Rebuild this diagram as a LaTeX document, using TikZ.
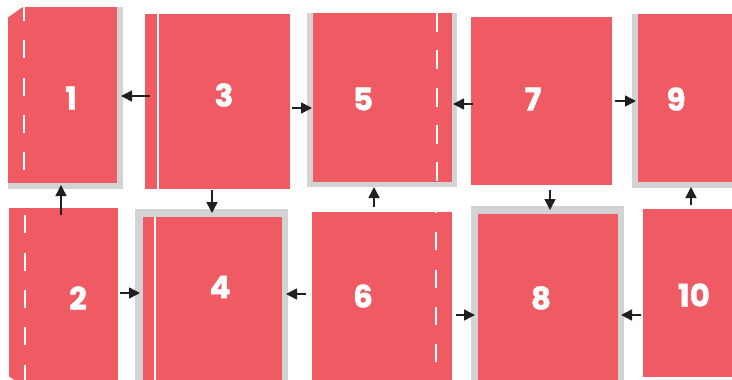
\documentclass[tikz,border=0pt]{standalone}
\usepackage{fontspec}
\usepackage{tikz}
\usetikzlibrary{arrows.meta, backgrounds, calc}
\newfontfamily\numfont{Poppins}[BoldFeatures={FakeBold=1.6}]
\definecolor{mypanelred}{RGB}{240, 90, 98}
\definecolor{myshadowgray}{RGB}{209, 211, 212}
\definecolor{myarrowblack}{RGB}{35, 31, 32}
\tikzset{
  panel/.style={fill=mypanelred, inner sep=0, outer sep=0},
  num/.style={text=white, font=\numfont\bfseries\fontsize{31}{31}\selectfont, inner sep=0},
  fold/.style={draw=white, line width=2},
  arr/.style={-{Triangle[length=11, width=11]}, line width=1.5, myarrowblack}
}
\begin{document}
\begin{tikzpicture}[x=1pt, y=-1pt]
\useasboundingbox (0,0) rectangle (732,380);

% --- Top row ---
\node at (62.5,95) [panel, minimum width=109, minimum height=176] (p1) {};
\node at (217.5,101.5) [panel, minimum width=145, minimum height=175] (p3) {};
\node at (382.5,97.5) [panel, minimum width=139, minimum height=169] (p5) {};
\node at (541.5,101) [panel, minimum width=141, minimum height=168] (p7) {};
\node at (685,98) [panel, minimum width=94, minimum height=168] (p9) {};

% --- Bottom row ---
\node at (63.5,294) [panel, minimum width=109, minimum height=172] (p2) {};
\node at (212.5,298.5) [panel, minimum width=139, minimum height=163] (p4) {};
\node at (382,296) [panel, minimum width=140, minimum height=168] (p6) {};
\node at (548,297) [panel, minimum width=140, minimum height=166] (p8) {};
\node at (687.5,293) [panel, minimum width=89, minimum height=168] (p10) {};

% --- Shadows ---
\begin{scope}[on background layer]
\fill[myshadowgray] (p1.north west) rectangle ($(p1.south east)+(6,6)$);
\fill[myshadowgray] ($(p4.north west)+(-8,-8)$) rectangle ($(p4.south east)+(6,0)$);
\fill[myshadowgray] ($(p5.north west)+(-6,0)$) rectangle ($(p5.south east)+(5,5)$);
\fill[myshadowgray] ($(p8.north west)+(-7,-8)$) rectangle ($(p8.south east)+(6,0)$);
\fill[myshadowgray] ($(p9.north west)+(-6,0)$) rectangle ($(p9.south east)+(0,6)$);
\end{scope}

% --- Folds ---
\draw[fold, dash pattern=on 18 off 19.3, dash phase=4] ($(p1.north west)+(16,0)$) -- ($(p1.south west)+(16,0)$);
\draw[fold, dash pattern=on 18 off 19.3, dash phase=30] ($(p2.north west)+(16,0)$) -- ($(p2.south west)+(16,0)$);
\draw[fold, dash pattern=on 19 off 18.3] ($(p5.north east)+(-15,0)$) -- ($(p5.south east)+(-15,0)$);
\draw[fold, dash pattern=on 18 off 19.3, dash phase=17] ($(p6.north east)+(-16,0)$) -- ($(p6.south east)+(-16,0)$);
\draw[fold] ($(p3.north west)+(13,0)$) -- ($(p3.south west)+(13,0)$);
\draw[fold] ($(p4.north west)+(12,0)$) -- ($(p4.south west)+(12,0)$);

% --- Cut corners ---
\fill[white] ($(p1.north west)+(-1,-1)$) -- ($(p1.north west)+(16,-1)$) -- ($(p1.north west)+(-1,11)$) -- cycle;
\fill[white] ($(p2.south west)+(-1,1)$) -- ($(p2.south west)+(-1,-4)$) -- ($(p2.south west)+(7,1)$) -- cycle;

% --- Numbers ---
\node at (71,98) [num] (n1) {1};
\node at (78,298) [num] (n2) {2};
\node at (224,95) [num] (n3) {3};
\node at (220,287) [num] (n4) {4};
\node at (363,99) [num] (n5) {5};
\node at (363,296) [num] (n6) {6};
\node at (533,99) [num] (n7) {7};
\node at (541,298) [num] (n8) {8};
\node at (676,99) [num] (n9) {9};
\node at (694,295) [num] (n10) {10};

% --- Arrows ---
\draw[arr] ($(p3.west)+(5,-5.5)$) -- ($(p1.east)+(4,1)$);
\draw[arr] ($(p3.east)+(2,6.5)$) -- ($(p5.west)+(-1,10.5)$);
\draw[arr] ($(p7.west)+(2,3)$) -- ($(p5.east)+(1,6.5)$);
\draw[arr] ($(p7.east)+(3,0)$) -- ($(p9.west)+(-2,3)$);
\draw[arr] ($(p2.north)+(-2.5,7)$) -- ($(p1.south)+(-1.5,2)$);
\draw[arr] ($(p2.east)+(2,-1)$) -- ($(p4.west)+(-3,-5.5)$);
\draw[arr] ($(p3.south)+(-5.5,1)$) -- ($(p4.north)+(-0.5,-4)$);
\draw[arr] ($(p6.west)+(-6,-2)$) -- ($(p4.east)+(4,-4.5)$);
\draw[arr] ($(p6.north)+(-8,-5)$) -- ($(p5.south)+(-8.5,5)$);
\draw[arr] ($(p6.east)+(4,19)$) -- ($(p8.west)+(-3,18)$);
\draw[arr] ($(p7.south)+(8.5,5)$) -- ($(p8.north)+(2,-4)$);
\draw[arr] ($(p10.west)+(-2,22)$) -- ($(p8.east)+(3,18)$);
\draw[arr] ($(p10.north)+(3.5,-4)$) -- ($(p9.south)+(6,5)$);
\end{tikzpicture}
\end{document}
